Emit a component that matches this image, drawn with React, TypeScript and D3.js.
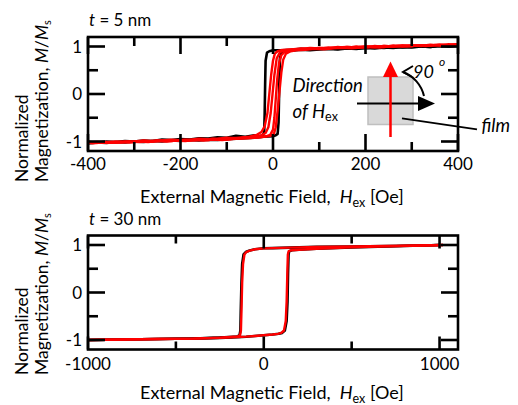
import React from "react";
import * as d3 from "d3";

type P = [number, number];

// ---------- Top panel (t = 5 nm) ----------
const topXTicksMajor = [-400, -200, 0, 200, 400];
const topXTicksMinor = [-300, -100, 100, 300];
const yTicksMajor = [-1, 0, 1];
const yTicksMinor = [-0.5, 0.5];

const blackDesc5: P[] = [[400,1.02],[380,1.0],[360,1.01],[340,0.99],[320,1.0],[300,0.99],[280,0.98],[260,0.99],[240,0.97],[220,0.98],[200,0.97],[180,0.96],[160,0.97],[140,0.95],[120,0.96],[100,0.95],[80,0.94],[60,0.95],[40,0.93],[20,0.92],[0,0.92],[-8,0.9],[-13,0.87],[-16,0.7],[-17,0.2],[-18,-0.4],[-19,-0.8],[-22,-0.87],[-30,-0.89],[-40,-0.87],[-60,-0.9],[-80,-0.88],[-100,-0.92],[-120,-0.91],[-140,-0.94],[-160,-0.93],[-180,-0.96],[-200,-0.95],[-220,-0.97],[-240,-0.96],[-260,-0.99],[-280,-0.98],[-300,-1.0],[-320,-0.99],[-340,-1.01],[-360,-1.0],[-380,-1.02],[-400,-1.01]];
const blackAsc5: P[] = [[-400,-1.04],[-380,-1.02],[-360,-1.03],[-340,-1.01],[-320,-1.02],[-300,-1.0],[-280,-1.01],[-260,-0.99],[-240,-1.0],[-220,-0.98],[-200,-0.99],[-180,-0.97],[-160,-0.98],[-140,-0.96],[-120,-0.97],[-100,-0.95],[-80,-0.94],[-60,-0.93],[-40,-0.92],[-20,-0.9],[0,-0.89],[6,-0.87],[10,-0.84],[12,-0.6],[13,-0.1],[14,0.4],[15,0.75],[18,0.86],[25,0.9],[40,0.91],[60,0.93],[80,0.92],[100,0.94],[120,0.95],[140,0.94],[160,0.96],[180,0.95],[200,0.97],[220,0.96],[240,0.98],[260,0.97],[280,0.99],[300,0.98],[320,1.0],[340,0.99],[360,1.01],[380,1.0],[400,1.01]];
const redADesc5: P[] = [[400,1.05],[380,1.03],[360,1.04],[340,1.02],[320,1.03],[300,1.01],[280,1.02],[260,1.0],[240,1.01],[220,0.99],[200,1.0],[180,0.98],[160,0.99],[140,0.97],[120,0.98],[100,0.96],[80,0.97],[60,0.95],[40,0.94],[20,0.93],[10,0.9],[4,0.85],[0,0.7],[-4,0.4],[-8,0.0],[-12,-0.4],[-18,-0.68],[-25,-0.8],[-35,-0.86],[-50,-0.9],[-70,-0.92],[-90,-0.93],[-110,-0.95],[-130,-0.94],[-150,-0.96],[-170,-0.97],[-190,-0.96],[-210,-0.98],[-230,-0.99],[-250,-0.98],[-270,-1.0],[-290,-1.01],[-310,-1.0],[-330,-1.02],[-350,-1.01],[-370,-1.03],[-390,-1.02],[-400,-1.03]];
const redAAsc5: P[] = [[-400,-1.02],[-390,-1.04],[-370,-1.02],[-350,-1.03],[-330,-1.01],[-310,-1.02],[-290,-1.0],[-270,-1.01],[-250,-0.99],[-230,-1.0],[-210,-0.98],[-190,-0.99],[-170,-0.97],[-150,-0.98],[-130,-0.96],[-110,-0.97],[-90,-0.95],[-70,-0.94],[-50,-0.93],[-30,-0.91],[-15,-0.89],[-6,-0.86],[0,-0.75],[3,-0.5],[6,-0.1],[9,0.3],[13,0.65],[18,0.82],[25,0.88],[40,0.92],[60,0.94],[80,0.95],[100,0.97],[120,0.96],[140,0.98],[160,0.99],[180,0.98],[200,1.0],[220,0.99],[240,1.01],[260,1.0],[280,1.02],[300,1.01],[320,1.03],[340,1.02],[360,1.04],[380,1.03],[400,1.05]];
const redBDesc5: P[] = [[400,1.03],[380,1.05],[360,1.02],[340,1.04],[320,1.01],[300,1.03],[280,1.0],[260,1.02],[240,0.99],[220,1.01],[200,0.98],[180,1.0],[160,0.97],[140,0.99],[120,0.96],[100,0.97],[80,0.95],[60,0.96],[40,0.94],[25,0.92],[15,0.88],[8,0.75],[3,0.4],[-1,0.0],[-5,-0.4],[-10,-0.7],[-16,-0.82],[-25,-0.87],[-40,-0.9],[-60,-0.91],[-80,-0.93],[-100,-0.92],[-120,-0.94],[-140,-0.95],[-160,-0.94],[-180,-0.96],[-200,-0.97],[-220,-0.96],[-240,-0.98],[-260,-0.99],[-280,-0.98],[-300,-1.0],[-320,-1.01],[-340,-1.0],[-360,-1.02],[-380,-1.01],[-400,-1.02]];
const redBAsc5: P[] = [[-400,-1.01],[-380,-1.03],[-360,-1.01],[-340,-1.02],[-320,-1.0],[-300,-1.01],[-280,-0.99],[-260,-1.0],[-240,-0.98],[-220,-0.99],[-200,-0.97],[-180,-0.98],[-160,-0.96],[-140,-0.97],[-120,-0.95],[-100,-0.96],[-80,-0.94],[-60,-0.93],[-40,-0.92],[-20,-0.9],[-5,-0.88],[2,-0.84],[6,-0.7],[10,-0.35],[14,0.05],[18,0.45],[22,0.72],[28,0.85],[38,0.9],[50,0.92],[70,0.93],[90,0.95],[110,0.94],[130,0.96],[150,0.97],[170,0.96],[190,0.98],[210,0.99],[230,0.98],[250,1.0],[270,1.01],[290,1.0],[310,1.02],[330,1.01],[350,1.03],[370,1.02],[390,1.04],[400,1.03]];

// ---------- Bottom panel (t = 30 nm) ----------
const botXTicksMajor = [-1000, 0, 1000];
const botXTicksMinor = [-500, 500];

const redDesc30: P[] = [[1020,1.0],[900,0.99],[700,0.98],[500,0.97],[300,0.96],[150,0.945],[50,0.935],[0,0.93],[-50,0.91],[-80,0.88],[-100,0.85],[-110,0.8],[-118,0.6],[-123,0.2],[-127,-0.4],[-130,-0.8],[-135,-0.9],[-150,-0.925],[-250,-0.95],[-400,-0.97],[-600,-0.98],[-800,-0.99],[-1000,-1.0]];
const redAsc30: P[] = [[-1000,-1.0],[-800,-0.99],[-600,-0.98],[-400,-0.97],[-250,-0.955],[-150,-0.94],[-100,-0.93],[-50,-0.915],[0,-0.9],[50,-0.885],[80,-0.87],[100,-0.85],[115,-0.8],[125,-0.6],[130,-0.2],[134,0.4],[137,0.8],[142,0.87],[160,0.89],[200,0.9],[300,0.92],[500,0.95],[700,0.97],[900,0.99],[1020,1.0]];
const blackDesc30: P[] = [[1000,1.0],[900,0.99],[700,0.98],[500,0.97],[300,0.96],[150,0.945],[50,0.935],[0,0.93],[-50,0.91],[-80,0.885],[-100,0.86],[-115,0.8],[-123,0.6],[-127,0.2],[-131,-0.4],[-133,-0.8],[-138,-0.9],[-150,-0.925],[-250,-0.95],[-400,-0.97],[-600,-0.98],[-800,-0.99],[-1000,-1.0]];
const blackAsc30: P[] = [[-1000,-1.0],[-800,-0.99],[-600,-0.98],[-400,-0.97],[-250,-0.955],[-150,-0.94],[-100,-0.93],[-50,-0.915],[0,-0.9],[50,-0.885],[85,-0.87],[105,-0.85],[120,-0.8],[130,-0.6],[135,-0.2],[138,0.4],[141,0.8],[145,0.87],[160,0.89],[200,0.9],[300,0.92],[500,0.95],[700,0.97],[900,0.99],[1000,1.0]];

const FONT = "Lato, 'Open Sans', sans-serif";

interface PanelProps {
  xDomain: [number, number];
  yRange: [number, number];
  xMajor: number[];
  xMinor: number[];
  xMajorLen: number;
  xMinorLen: number;
  black: P[][];
  red: P[][];
  label: string;
  titleY: number;
  yTitleStart: number;
  tickLabelY: number;
}

const L = 88, R = 458;

function Panel(p: PanelProps) {
  const x = d3.scaleLinear().domain(p.xDomain).range([L, R]);
  const y = d3.scaleLinear().domain([-1.2, 1.2]).range(p.yRange);
  const line = d3.line<P>().x(d => x(d[0])).y(d => y(d[1])).curve(d3.curveLinear);
  const top = p.yRange[1], bot = p.yRange[0];
  const sw = 2.6;
  return (
    <g>
      {p.black.map((s, i) => (
        <path key={"b" + i} d={line(s) || ""} fill="none" stroke="#000" strokeWidth={2.6} strokeLinejoin="round" />
      ))}
      {p.red.map((s, i) => (
        <path key={"r" + i} d={line(s) || ""} fill="none" stroke="#ff0000" strokeWidth={2.4} strokeLinejoin="round" />
      ))}
      <rect x={L} y={top} width={R - L} height={bot - top} fill="none" stroke="#000" strokeWidth={sw} />
      {p.xMajor.map(v => (
        <g key={"xm" + v}>
          <line x1={x(v)} x2={x(v)} y1={bot} y2={bot - p.xMajorLen} stroke="#000" strokeWidth={sw} />
          <line x1={x(v)} x2={x(v)} y1={top} y2={top + p.xMajorLen} stroke="#000" strokeWidth={sw} />
          <text x={x(v)} y={p.tickLabelY} textAnchor="middle" fontSize={17} fontFamily={FONT}>{v}</text>
        </g>
      ))}
      {p.xMinor.map(v => (
        <g key={"xn" + v}>
          <line x1={x(v)} x2={x(v)} y1={bot} y2={bot - p.xMinorLen} stroke="#000" strokeWidth={sw} />
          <line x1={x(v)} x2={x(v)} y1={top} y2={top + p.xMinorLen} stroke="#000" strokeWidth={sw} />
        </g>
      ))}
      {yTicksMajor.map(v => (
        <g key={"ym" + v}>
          <line x1={L} x2={L + 17} y1={y(v)} y2={y(v)} stroke="#000" strokeWidth={sw} />
          <line x1={R} x2={R - 17} y1={y(v)} y2={y(v)} stroke="#000" strokeWidth={sw} />
          <text x={82} y={y(v)} dy="0.36em" textAnchor="end" fontSize={17} fontFamily={FONT}>{v}</text>
        </g>
      ))}
      {yTicksMinor.map(v => (
        <g key={"yn" + v}>
          <line x1={L} x2={L + 10} y1={y(v)} y2={y(v)} stroke="#000" strokeWidth={sw} />
          <line x1={R} x2={R - 10} y1={y(v)} y2={y(v)} stroke="#000" strokeWidth={sw} />
        </g>
      ))}
      <text x={89} y={top - 11} fontSize={17} fontFamily={FONT}>
        <tspan fontStyle="italic">t</tspan> = {p.label}
      </text>
      <text x={140} y={p.titleY} fontSize={18} fontFamily={FONT}>
        External Magnetic Field,{"\u00a0\u00a0"}<tspan fontStyle="italic">H</tspan>
        <tspan fontSize={12.5} dy={4}>ex</tspan>
        <tspan dy={-4}> [Oe]</tspan>
      </text>
      <text transform="rotate(-90)" x={-p.yTitleStart} y={28} fontSize={17.5} fontFamily={FONT}>Normalized</text>
      <text transform="rotate(-90)" x={-p.yTitleStart} y={47.5} fontSize={17.5} fontFamily={FONT}>
        Magnetization,{"\u00a0"}<tspan fontStyle="italic">M</tspan>/<tspan fontStyle="italic">M</tspan>
        <tspan fontSize={11} dy={3}>s</tspan>
      </text>
    </g>
  );
}

export default function App() {
  return (
    <svg width={518} height={405} viewBox="0 0 518 405" style={{ display: "block", position: "absolute", left: 0, top: 0, background: "#fff" }}>
      <rect width={518} height={405} fill="#fff" />
      <Panel
        xDomain={[-400, 400]}
        yRange={[151, 37]}
        xMajor={topXTicksMajor}
        xMinor={topXTicksMinor}
        xMajorLen={17}
        xMinorLen={9}
        black={[blackDesc5, blackAsc5]}
        red={[redADesc5, redAAsc5, redBDesc5, redBAsc5]}
        label="5 nm"
        titleY={203}
        yTitleStart={182}
        tickLabelY={170}
      />
      <Panel
        xDomain={[-1000, 1105]}
        yRange={[349.5, 235.5]}
        xMajor={botXTicksMajor}
        xMinor={botXTicksMinor}
        xMajorLen={13}
        xMinorLen={8}
        black={[blackDesc30, blackAsc30]}
        red={[redDesc30, redAsc30]}
        label="30 nm"
        titleY={399}
        yTitleStart={375}
        tickLabelY={370}
      />
      <g>
        <rect x={368} y={77} width={45} height={47.5} fill="#d9d9d9" stroke="#bfbfbf" strokeWidth={1.5} />
        <line x1={357} y1={103.5} x2={419} y2={103.5} stroke="#000" strokeWidth={2} />
        <polygon points="418,96 435,103.5 418,111" fill="#000" />
        <line x1={390.5} y1={137} x2={390.5} y2={76} stroke="#ff0000" strokeWidth={2.5} />
        <polygon points="383,77 390.5,61.5 398,77" fill="#ff0000" />
        <path d="M 403 72 A 34 34 0 0 1 424 96" fill="none" stroke="#000" strokeWidth={2} />
        <path d="M 413 66 L 403 72 L 412 77" fill="none" stroke="#000" strokeWidth={2} />
        <text x={413} y={78} fontSize={18} fontStyle="italic" fontFamily={FONT}>90</text>
        <text x={439} y={66} fontSize={12} fontStyle="italic" fontFamily={FONT}>o</text>
        <text x={292.5} y={92} fontSize={18.5} fontStyle="italic" fontFamily={FONT}>Direction</text>
        <text x={292.5} y={118} fontSize={18.5} fontFamily={FONT}>
          <tspan fontStyle="italic">of H</tspan>
          <tspan fontSize={12.5} dy={3}>ex</tspan>
        </text>
        <line x1={402} y1={118.3} x2={477} y2={129.3} stroke="#000" strokeWidth={1.8} />
        <text x={481.5} y={132} fontSize={18.5} fontStyle="italic" fontFamily={FONT}>film</text>
      </g>
    </svg>
  );
}
